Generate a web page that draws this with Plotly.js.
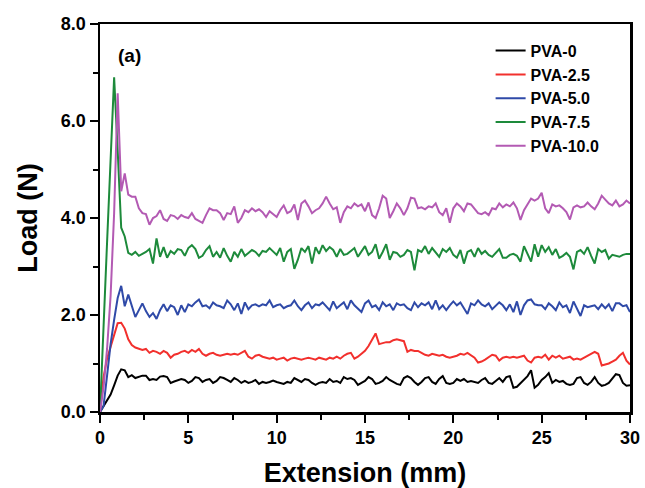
<!DOCTYPE html>
<html>
<head>
<meta charset="utf-8">
<script src="https://cdn.plot.ly/plotly-3.0.1.min.js"></script>
<style>html,body{margin:0;padding:0;background:#fff;}#chart{width:645px;height:488px;}</style>
</head>
<body>
<div id="chart"></div>
<script>
// Extension (mm)
const extension = [
  0,0.2,0.4,0.6,0.8,1,1.2,1.4,1.6,1.8,
  2,2.2,2.4,2.6,2.8,3,3.2,3.4,3.6,3.8,
  4,4.2,4.4,4.6,4.8,5,5.2,5.4,5.6,5.8,
  6,6.2,6.4,6.6,6.8,7,7.2,7.4,7.6,7.8,
  8,8.2,8.4,8.6,8.8,9,9.2,9.4,9.6,9.8,
  10,10.2,10.4,10.6,10.8,11,11.2,11.4,11.6,11.8,
  12,12.2,12.4,12.6,12.8,13,13.2,13.4,13.6,13.8,
  14,14.2,14.4,14.6,14.8,15,15.2,15.4,15.6,15.8,
  16,16.2,16.4,16.6,16.8,17,17.2,17.4,17.6,17.8,
  18,18.2,18.4,18.6,18.8,19,19.2,19.4,19.6,19.8,
  20,20.2,20.4,20.6,20.8,21,21.2,21.4,21.6,21.8,
  22,22.2,22.4,22.6,22.8,23,23.2,23.4,23.6,23.8,
  24,24.2,24.4,24.6,24.8,25,25.2,25.4,25.6,25.8,
  26,26.2,26.4,26.6,26.8,27,27.2,27.4,27.6,27.8,
  28,28.2,28.4,28.6,28.8,29,29.2,29.4,29.6,29.8,
  30
];

const seriesNames = ["PVA-0", "PVA-2.5", "PVA-5.0", "PVA-7.5", "PVA-10.0"];

const pva0 = [
  0,0.12,0.22,0.36,0.55,0.75,0.88,0.86,0.72,0.76,
  0.7,0.72,0.75,0.75,0.66,0.68,0.66,0.73,0.74,0.72,
  0.6,0.63,0.65,0.68,0.66,0.6,0.64,0.72,0.7,0.62,
  0.66,0.68,0.6,0.64,0.72,0.7,0.66,0.62,0.7,0.66,
  0.6,0.64,0.6,0.62,0.66,0.58,0.62,0.6,0.62,0.65,
  0.62,0.6,0.58,0.62,0.6,0.7,0.66,0.62,0.68,0.66,
  0.6,0.56,0.6,0.62,0.6,0.68,0.62,0.64,0.6,0.72,
  0.68,0.7,0.66,0.56,0.6,0.64,0.72,0.68,0.58,0.6,
  0.64,0.72,0.66,0.62,0.58,0.56,0.7,0.74,0.7,0.62,
  0.56,0.62,0.7,0.72,0.62,0.58,0.68,0.74,0.6,0.58,
  0.6,0.68,0.64,0.68,0.62,0.64,0.62,0.6,0.66,0.7,
  0.6,0.58,0.64,0.7,0.62,0.72,0.74,0.5,0.52,0.6,
  0.66,0.74,0.86,0.5,0.56,0.66,0.72,0.8,0.6,0.66,
  0.62,0.64,0.58,0.56,0.58,0.7,0.72,0.6,0.56,0.62,
  0.72,0.6,0.54,0.56,0.6,0.7,0.78,0.76,0.6,0.54,
  0.55
];

const pva25 = [
  0,0.72,1.1,1.35,1.62,1.83,1.84,1.72,1.5,1.38,
  1.33,1.3,1.28,1.3,1.22,1.26,1.24,1.2,1.26,1.22,
  1.12,1.18,1.2,1.24,1.26,1.22,1.28,1.24,1.3,1.2,
  1.16,1.2,1.22,1.18,1.16,1.18,1.2,1.18,1.2,1.18,
  1.22,1.26,1.14,1.1,1.16,1.18,1.14,1.12,1.1,1.12,
  1.08,1.1,1.12,1.06,1.1,1.12,1.1,1.08,1.1,1.12,
  1.1,1.08,1.12,1.1,1.08,1.12,1.1,1.14,1.1,1.16,
  1.2,1.22,1.1,1.14,1.2,1.26,1.36,1.5,1.62,1.4,
  1.42,1.44,1.44,1.48,1.5,1.48,1.46,1.24,1.28,1.26,
  1.26,1.22,1.18,1.16,1.2,1.18,1.16,1.18,1.14,1.12,
  1.14,1.16,1.2,1.18,1.22,1.16,1.12,1.02,1.04,1.08,
  1.14,1.18,1.16,1.06,1.12,1.14,1.12,1.14,1.12,1.14,
  1.16,1.06,1.02,1.12,1.14,1.12,1.18,1.08,1.16,1.12,
  1.16,1.1,1.12,1.14,1.08,1.1,1.08,1.12,1.16,1.2,
  1.24,1.2,0.96,0.98,1.0,1.04,1.08,1.16,1.22,1.06,
  0.98
];

const pva50 = [
  0,0.12,0.75,1.4,1.9,2.35,2.6,2.18,2.42,2.2,
  1.96,2.1,2.24,2.08,1.96,2.04,1.92,2.1,2.22,2.08,
  2.2,2.16,2.0,2.2,2.06,2.22,2.18,2.26,2.32,2.18,
  2.2,2.14,2.26,2.2,2.18,2.14,2.3,2.22,2.1,2.24,
  2.02,2.26,2.12,2.2,2.22,2.18,2.22,2.2,2.3,2.16,
  2.2,2.22,2.14,2.18,2.2,2.3,2.18,2.1,2.2,2.26,
  2.14,2.22,2.2,2.26,2.18,2.1,2.28,2.14,2.2,2.26,
  2.12,2.3,2.2,2.12,2.06,2.24,2.3,2.16,2.2,2.1,
  2.26,2.18,2.22,2.1,2.24,2.2,2.22,2.14,2.1,2.26,
  2.16,2.24,2.2,2.26,2.12,2.3,2.12,2.2,2.1,2.2,
  2.28,2.2,2.26,2.14,2.02,2.24,2.2,2.3,2.22,2.18,
  2.24,2.12,2.2,2.26,2.2,2.1,2.22,2.06,2.28,2.0,
  2.2,2.3,2.32,2.22,2.2,2.2,2.12,2.24,2.18,2.1,
  2.26,2.16,2.2,2.04,2.28,2.14,1.98,2.2,2.16,2.18,
  2.2,2.12,2.22,2.14,2.22,2.08,2.24,2.24,2.18,2.2,
  2.06
];

const pva75 = [
  0,1.6,3.5,5.2,6.9,5.4,3.8,3.62,3.28,3.24,
  3.3,3.22,3.26,3.3,3.36,3.06,3.58,3.2,3.4,3.18,
  3.32,3.26,3.36,3.34,3.22,3.38,3.44,3.36,3.18,3.22,
  3.34,3.42,3.2,3.3,3.18,3.38,3.22,3.1,3.3,3.2,
  3.36,3.22,3.28,3.34,3.3,3.22,3.32,3.3,3.38,3.3,
  3.24,3.38,3.1,3.3,3.36,2.95,3.14,3.38,3.3,3.42,
  3.06,3.4,3.26,3.44,3.32,3.4,3.34,3.2,3.36,3.24,
  3.26,3.32,3.38,3.2,3.3,3.42,3.24,3.3,3.46,3.16,
  3.3,3.46,3.14,3.3,3.28,3.2,3.24,3.34,3.3,2.92,
  3.34,3.3,3.42,3.26,3.38,3.3,3.2,3.36,3.3,3.38,
  3.24,3.18,3.34,3.06,3.3,3.34,3.2,3.38,3.26,3.32,
  3.24,3.2,3.28,3.36,3.18,3.18,3.24,3.26,3.22,3.1,
  3.42,3.26,3.1,3.46,3.2,3.44,3.3,3.4,3.24,3.36,
  3.18,3.22,3.28,3.2,2.94,3.3,3.34,3.26,3.4,3.22,
  3.06,3.36,3.3,3.34,3.16,3.24,3.22,3.2,3.24,3.26,
  3.26
];

const pva100 = [
  0,0.5,1.3,2.4,4.1,6.57,4.55,4.92,4.48,4.44,
  4.44,4.2,4.1,4.08,3.86,4.0,4.04,4.16,3.98,3.94,
  4.06,4.04,3.98,4.06,4.02,4.0,4.1,3.98,3.94,3.9,
  4.06,4.2,4.16,4.16,4.1,3.96,4.1,4.08,4.24,3.9,
  4.0,4.16,4.12,4.2,4.14,4.18,4.12,4.02,4.14,4.08,
  4.02,4.16,4.26,4.1,4.14,4.28,3.96,4.3,4.36,4.24,
  4.1,4.16,4.2,4.3,4.44,4.3,4.18,4.22,3.9,4.12,
  4.24,4.2,4.3,4.24,4.28,4.14,4.32,4.06,4.0,4.2,
  4.46,4.4,4.0,4.14,4.3,4.2,4.06,4.2,4.42,4.4,
  4.2,4.22,4.18,4.24,4.22,4.3,4.12,4.06,4.2,3.9,
  4.2,4.3,4.24,4.14,4.3,4.28,4.18,4.1,4.08,4.12,
  4.06,4.2,4.18,4.3,4.22,4.28,4.24,4.32,4.2,3.96,
  4.16,4.28,4.4,4.36,4.4,4.52,4.2,4.1,4.28,4.24,
  4.26,4.2,4.12,3.97,4.22,4.26,4.22,4.24,4.32,4.24,
  4.18,4.3,4.46,4.38,4.3,4.26,4.36,4.24,4.28,4.36,
  4.3
];

const seriesValues = [pva0, pva25, pva50, pva75, pva100];
const seriesColors = ["#000000", "#f2302d", "#2f4aa8", "#1d8a3b", "#b35ab3"];

const FONT = "Liberation Sans, Arial, Helvetica, sans-serif";

const traces = seriesValues.map((vals, i) => ({
  type: "scatter",
  mode: "lines",
  x: extension,
  y: vals,
  name: seriesNames[i],
  line: {color: seriesColors[i], width: 2},
  cliponaxis: true
}));

const axisCommon = {
  showline: true,
  linecolor: "#000",
  linewidth: 2.5,
  mirror: true,
  showgrid: false,
  zeroline: false,
  ticks: "outside",
  ticklen: 8,
  tickwidth: 2,
  tickcolor: "#000",
  tickfont: {family: FONT, size: 18, color: "#000", weight: "bold"}
};

const layout = {
  width: 645,
  height: 488,
  margin: {l: 100, r: 15, t: 24, b: 76},
  paper_bgcolor: "#fff",
  plot_bgcolor: "#fff",
  showlegend: true,
  legend: {
    x: 0.737, y: 0.975, xanchor: "left", yanchor: "top",
    bgcolor: "rgba(0,0,0,0)",
    font: {family: FONT, size: 16, color: "#000", weight: "bold"}
  },
  xaxis: Object.assign({}, axisCommon, {
    range: [0, 30],
    dtick: 5,
    tick0: 0,
    minor: {ticks: "outside", ticklen: 5, tickwidth: 2, tickcolor: "#000", dtick: 2.5},
    title: {text: "Extension (mm)", standoff: 18,
      font: {family: FONT, size: 27, color: "#000", weight: "bold"}}
  }),
  yaxis: Object.assign({}, axisCommon, {
    range: [0, 8],
    dtick: 2,
    tick0: 0,
    tickformat: ".1f",
    minor: {ticks: "outside", ticklen: 5, tickwidth: 2, tickcolor: "#000", dtick: 1},
    title: {text: "Load (N)", standoff: 16,
      font: {family: FONT, size: 27, color: "#000", weight: "bold"}}
  }),
  annotations: [{
    text: "(a)", xref: "paper", yref: "paper",
    x: 0.031, y: 0.92, xanchor: "left", yanchor: "middle",
    showarrow: false,
    font: {family: FONT, size: 19, color: "#000", weight: "bold"}
  }]
};

Plotly.newPlot("chart", traces, layout, {displayModeBar: false, staticPlot: true});
</script>
</body>
</html>
